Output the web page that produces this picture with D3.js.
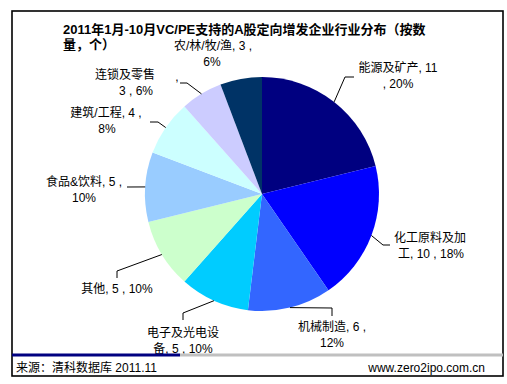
<!DOCTYPE html>
<html>
<head>
<meta charset="utf-8">
<script src="https://cdn.jsdelivr.net/npm/d3@7"></script>
<style>
  body { margin: 0; background: #fff; }
  svg text { font-family: "Liberation Sans", "Noto Sans CJK SC", sans-serif; }
</style>
</head>
<body>
<div id="chart"></div>
<script>
// data
var industries = ["能源及矿产", "化工原料及加工", "机械制造", "电子及光电设备", "其他", "食品&饮料", "建筑/工程", "连锁及零售", "农/林/牧/渔"];
var counts = [11, 10, 6, 5, 5, 5, 4, 3, 3];
var percents = [20, 18, 12, 10, 10, 10, 8, 6, 6];
var colors = ["#000080", "#0000FF", "#3366FF", "#00CCFF", "#CCFFCC", "#99CCFF", "#CCFFFF", "#CCCCFF", "#003366"];

var titleLines = ["2011年1月-10月VC/PE支持的A股定向增发企业行业分布（按数", "量，个）"];
var sourceText = "来源：清科数据库 2011.11";
var siteText = "www.zero2ipo.com.cn";

// label layout: where each label sits and how its text wraps
var labelLayout = [
  {lines: ["能源及矿产, 11", ", 20%"], x: [398, 398], y: 72, anchor: "middle", leg: [[345, 77], [354, 77]]},
  {lines: ["化工原料及加", "工, 10 , 18%"], x: [430, 431], y: 242, anchor: "middle", leg: [[383, 245], [390, 245]]},
  {lines: ["机械制造, 6 ,", "12%"], x: [332, 332], y: 331, anchor: "middle", leg: [[332, 308], [332, 316]]},
  {lines: ["电子及光电设", "备, 5 , 10%"], x: [183, 183], y: 337, anchor: "middle", leg: [[183, 313], [183, 320]]},
  {lines: ["其他, 5 , 10%"], x: [117], y: 293, anchor: "middle", leg: [[117, 271], [117, 278]]},
  {lines: ["食品&饮料, 5 ,", "10%"], x: [84, 84], y: 186, anchor: "middle", leg: [[127, 187]]},
  {lines: ["建筑/工程, 4 ,", "8%"], x: [106, 107], y: 117, anchor: "middle", leg: [[158, 122], [150, 122]]},
  {lines: ["连锁及零售", "3 , 6%"], x: [155, 153], y: 79, anchor: "end", leg: [[187, 83], [180, 83]], stray: [177, 81]},
  {lines: ["农/林/牧/渔, 3 ,", "6%"], x: [213, 212], y: 50, anchor: "middle", leg: null}
];

var width = 507, height = 384;
var cx = 262, cy = 194, radius = 117;

var svg = d3.select("#chart")
  .append("svg")
    .attr("width", width)
    .attr("height", height);

// outer frame
svg.append("rect")
  .attr("x", 12).attr("y", 11)
  .attr("width", 491).attr("height", 365)
  .attr("fill", "#fff")
  .attr("stroke", "#000")
  .attr("stroke-width", 1.6);

// title
svg.selectAll(".title")
  .data(titleLines)
  .enter()
  .append("text")
    .attr("class", "title")
    .attr("x", 63)
    .attr("y", function(d, i) { return 34 + i * 15; })
    .style("font-size", "13px")
    .style("font-weight", "bold")
    .text(function(d) { return d; });

// pie
var data = industries.map(function(name, i) {
  return {name: name, value: counts[i], pct: percents[i], color: colors[i], layout: labelLayout[i]};
});

var pie = d3.pie()
  .sort(null)
  .value(function(d) { return d.value; });
var arcs = pie(data);

var arc = d3.arc().innerRadius(0).outerRadius(radius);
var edgeArc = d3.arc().innerRadius(radius).outerRadius(radius);

var g = svg.append("g")
  .attr("transform", "translate(" + cx + "," + cy + ")");

g.selectAll("path")
  .data(arcs)
  .enter()
  .append("path")
    .attr("d", arc)
    .attr("fill", function(d) { return d.data.color; });

// leader lines from slice edge
svg.selectAll(".leader")
  .data(arcs.filter(function(d) { return d.data.layout.leg; }))
  .enter()
  .append("polyline")
    .attr("class", "leader")
    .attr("fill", "none")
    .attr("stroke", "#000")
    .attr("stroke-width", 1)
    .attr("points", function(d) {
      var p = edgeArc.centroid(d);
      var pts = [[cx + p[0], cy + p[1]]].concat(d.data.layout.leg);
      return pts.map(function(q) { return q.join(","); }).join(" ");
    });

// labels
var labels = svg.selectAll(".label")
  .data(data)
  .enter()
  .append("text")
    .attr("class", "label")
    .style("font-size", "12px")
    .attr("fill", "#000")
    .attr("text-anchor", function(d) { return d.layout.anchor; });

labels.selectAll("tspan")
  .data(function(d) {
    return d.layout.lines.map(function(t, i) { return {t: t, x: d.layout.x[i], y: d.layout.y + i * 16}; });
  })
  .enter()
  .append("tspan")
    .attr("x", function(d) { return d.x; })
    .attr("y", function(d) { return d.y; })
    .text(function(d) { return d.t; });

// stray comma left by the label wrap
svg.selectAll(".stray")
  .data(data.filter(function(d) { return d.layout.stray; }))
  .enter()
  .append("text")
    .attr("class", "stray")
    .attr("x", function(d) { return d.layout.stray[0]; })
    .attr("y", function(d) { return d.layout.stray[1]; })
    .attr("text-anchor", "middle")
    .style("font-size", "12px")
    .text(",");

// footer bars
svg.append("line")
  .attr("x1", 180).attr("x2", 503)
  .attr("y1", 355).attr("y2", 355)
  .attr("stroke", "#C0C0C0")
  .attr("stroke-width", 3);
svg.append("line")
  .attr("x1", 12).attr("x2", 180)
  .attr("y1", 355).attr("y2", 355)
  .attr("stroke", "#000080")
  .attr("stroke-width", 3);

svg.append("text")
  .attr("x", 16).attr("y", 372)
  .style("font-size", "12px")
  .text(sourceText);

svg.append("text")
  .attr("x", 485).attr("y", 372)
  .attr("text-anchor", "end")
  .style("font-size", "12px")
  .text(siteText);
</script>
</body>
</html>
